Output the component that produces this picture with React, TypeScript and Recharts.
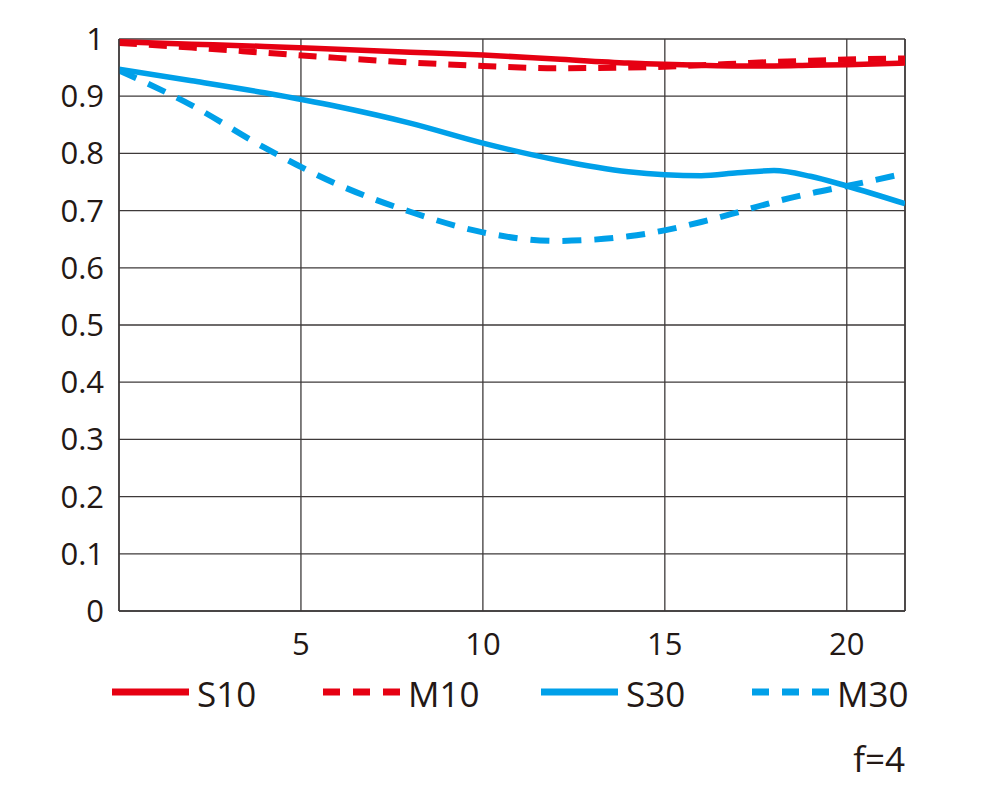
import { LineChart, Line, XAxis, YAxis, CartesianGrid, ReferenceLine } from 'recharts';

// image height (mm from centre) along x, MTF values per series
const positions = [0, 2, 4, 6, 8, 10, 12, 14, 16, 17, 18, 19, 20, 21.6];
const s10 = [0.995, 0.991, 0.987, 0.982, 0.977, 0.972, 0.965, 0.958, 0.954, 0.953, 0.953, 0.954, 0.955, 0.958];
const m10 = [0.993, 0.985, 0.976, 0.967, 0.959, 0.953, 0.949, 0.95, 0.954, 0.957, 0.96, 0.962, 0.964, 0.966];
const s30 = [0.947, 0.927, 0.906, 0.882, 0.853, 0.818, 0.789, 0.768, 0.761, 0.766, 0.77, 0.76, 0.743, 0.712];
const m30 = [0.945, 0.884, 0.81, 0.746, 0.698, 0.662, 0.647, 0.655, 0.68, 0.697, 0.715, 0.73, 0.743, 0.765];

const xTicks = [5, 10, 15, 20];
const yTicks = [0, 0.1, 0.2, 0.3, 0.4, 0.5, 0.6, 0.7, 0.8, 0.9, 1];
const legendItems = [
  { name: 'S10', color: '#e60012', dashed: false, x: 112 },
  { name: 'M10', color: '#e60012', dashed: true, x: 323 },
  { name: 'S30', color: '#00a0e9', dashed: false, x: 541 },
  { name: 'M30', color: '#00a0e9', dashed: true, x: 752 },
];
const apertureLabel = 'f=4';

const data = positions.map((x, i) => ({ x, s10: s10[i], m10: m10[i], s30: s30[i], m30: m30[i] }));

const RED = '#e60012';
const BLUE = '#00a0e9';
const GRID = '#3e3a3a';
const TEXT = '#231815';
const FONT = '"Open Sans", "Noto Sans", sans-serif';

const fmtY = (v: number) => (v === 0 || v === 1 ? String(v) : v.toFixed(1));

export default function App() {
  return (
    <div style={{ position: 'absolute', left: 0, top: 0, width: 1000, height: 789, background: '#fff', fontFamily: FONT }}>
      <LineChart width={1000} height={789} data={data} margin={{ top: 39, right: 95, bottom: 118, left: 39 }}>
        <CartesianGrid stroke={GRID} strokeWidth={1.3} />
        <XAxis
          dataKey="x"
          type="number"
          domain={[0, 21.6]}
          ticks={xTicks}
          allowDataOverflow
          height={60}
          tickSize={0}
          tickMargin={22}
          axisLine={{ stroke: GRID, strokeWidth: 1.5 }}
          tick={{ fontSize: 31, fill: TEXT, fontFamily: FONT, fontWeight: 500 }}
        />
        <YAxis
          type="number"
          domain={[0, 1]}
          ticks={yTicks}
          width={80}
          tickSize={0}
          tickMargin={15}
          tickFormatter={fmtY}
          axisLine={{ stroke: GRID, strokeWidth: 1.5 }}
          tick={{ fontSize: 31, fill: TEXT, fontFamily: FONT, fontWeight: 500 }}
        />
        <ReferenceLine x={21.6} stroke={GRID} strokeWidth={1.5} />
        <Line type="monotone" dataKey="m30" stroke={BLUE} strokeWidth={6} strokeDasharray="19 13" dot={false} isAnimationActive={false} />
        <Line type="monotone" dataKey="s30" stroke={BLUE} strokeWidth={5.5} dot={false} isAnimationActive={false} />
        <Line type="monotone" dataKey="m10" stroke={RED} strokeWidth={6} strokeDasharray="18 12" dot={false} isAnimationActive={false} />
        <Line type="monotone" dataKey="s10" stroke={RED} strokeWidth={5.5} dot={false} isAnimationActive={false} />
      </LineChart>
      <svg width={1000} height={789} style={{ position: 'absolute', left: 0, top: 0, pointerEvents: 'none' }}>
        {legendItems.map((it) => (
          <g key={it.name}>
            <line
              x1={it.x}
              x2={it.x + 77}
              y1={692}
              y2={692}
              stroke={it.color}
              strokeWidth={7}
              strokeDasharray={it.dashed ? '17 13' : undefined}
            />
            <text x={it.x + 85} y={707} fontSize={35} fill={TEXT} fontFamily={FONT} fontWeight={500}>
              {it.name}
            </text>
          </g>
        ))}
        <text x={905} y={772} textAnchor="end" fontSize={35} fill={TEXT} fontFamily={FONT} fontWeight={500}>
          {apertureLabel}
        </text>
      </svg>
    </div>
  );
}
